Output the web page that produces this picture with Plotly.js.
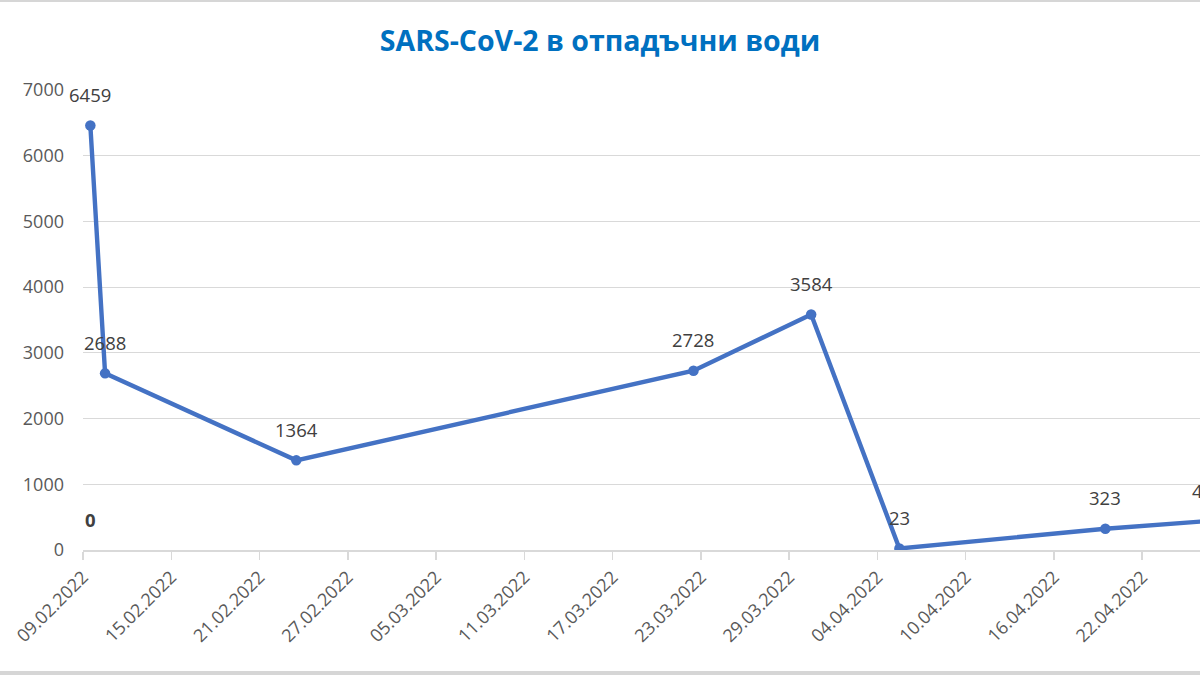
<!DOCTYPE html>
<html>
<head>
<meta charset="utf-8">
<script src="https://cdn.plot.ly/plotly-3.0.1.min.js"></script>
<style>
  html, body { margin: 0; padding: 0; background: #ffffff; overflow: hidden; }
  #wrap { position: relative; width: 1200px; height: 675px; overflow: hidden; background: #fff; }
  #chart { position: absolute; left: 0; top: 0; width: 1225px; height: 675px; }
  .edge { position: absolute; left: 0; width: 1200px; background: #d6d6d6; }
</style>
</head>
<body>
<div id="wrap">
  <div id="chart"></div>
  <div class="edge" style="top:0;height:2px;"></div>
  <div class="edge" style="top:671px;height:4px;"></div>
</div>
<script>
// Data
const chartTitle = 'SARS-CoV-2 в отпадъчни води';
const sampleDates = ['2022-02-09', '2022-02-10', '2022-02-23', '2022-03-22', '2022-03-30', '2022-04-05', '2022-04-19', '2022-04-26'];
const copies = [6459, 2688, 1364, 2728, 3584, 23, 323, 441];
const copyLabels = ['6459', '2688', '1364', '2728', '3584', '23', '323', '441'];
// second (hidden) series whose only visible part is its bold data label
const zeroDates = ['2022-02-09'];
const zeroValues = [0];
const zeroLabels = ['0'];

const yTickValues = [0, 1000, 2000, 3000, 4000, 5000, 6000, 7000];
const xTickStart = '2022-02-09';
const xTickStepDays = 6;

const DAY = 86400000;
const FIG_W = 1225, LEFT = 83, PX_PER_DAY = 14.71;
const rangeStartMs = Date.parse(xTickStart + 'T00:00:00Z');
const rangeEndMs = rangeStartMs + ((FIG_W - LEFT) / PX_PER_DAY) * DAY;
function iso(ms) { return new Date(ms).toISOString().replace('T', ' ').slice(0, 19); }

const mainTrace = {
  type: 'scatter',
  mode: 'lines+markers',
  x: sampleDates,
  y: copies,
  xperiod: DAY,
  xperiodalignment: 'middle',
  line: { color: '#4472C4', width: 4.4 },
  marker: { color: '#4472C4', size: 10.5 },
  hoverinfo: 'x+y',
  showlegend: false
};

const annotations = [];
sampleDates.forEach((d, i) => {
  annotations.push({
    x: d + ' 12:00', y: copies[i], xref: 'x', yref: 'y',
    text: copyLabels[i], showarrow: false, yshift: 31,
    font: { family: 'Open Sans, sans-serif', size: 18.5, color: '#404040' }
  });
});
zeroDates.forEach((d, i) => {
  annotations.push({
    x: d + ' 12:00', y: zeroValues[i], xref: 'x', yref: 'y',
    text: '<b>' + zeroLabels[i] + '</b>', showarrow: false, yshift: 31,
    font: { family: 'Open Sans, sans-serif', size: 18.5, color: '#404040' }
  });
});

const layout = {
  width: FIG_W,
  height: 675,
  paper_bgcolor: '#ffffff',
  plot_bgcolor: '#ffffff',
  margin: { l: LEFT, r: 0, t: 90, b: 125 },
  title: {
    text: '<b>' + chartTitle + '</b>',
    xref: 'container', yref: 'container',
    x: 600 / FIG_W, xanchor: 'center',
    y: 1 - 41 / 675, yanchor: 'middle',
    font: { family: 'Open Sans, sans-serif', size: 28.5, color: '#0070C0' }
  },
  xaxis: {
    type: 'date',
    range: [iso(rangeStartMs), iso(rangeEndMs)],
    tick0: xTickStart,
    dtick: xTickStepDays * DAY,
    tickformat: '%d.%m.%Y',
    tickangle: -45,
    ticks: 'outside',
    ticklen: 8,
    tickwidth: 1.5,
    tickcolor: '#d9d9d9',
    showline: true,
    linecolor: '#d9d9d9',
    linewidth: 1.5,
    showgrid: false,
    zeroline: false,
    tickfont: { family: 'Open Sans, sans-serif', size: 18, color: '#595959' }
  },
  yaxis: {
    range: [0, 7000],
    tickvals: yTickValues,
    ticks: '',
    ticklabelstandoff: 18,
    showgrid: true,
    gridcolor: '#d9d9d9',
    gridwidth: 1,
    zeroline: false,
    showline: false,
    tickfont: { family: 'Open Sans, sans-serif', size: 18, color: '#595959' }
  },
  annotations: annotations,
  showlegend: false
};

Plotly.newPlot('chart', [mainTrace], layout, { displayModeBar: false, staticPlot: true });
</script>
</body>
</html>
